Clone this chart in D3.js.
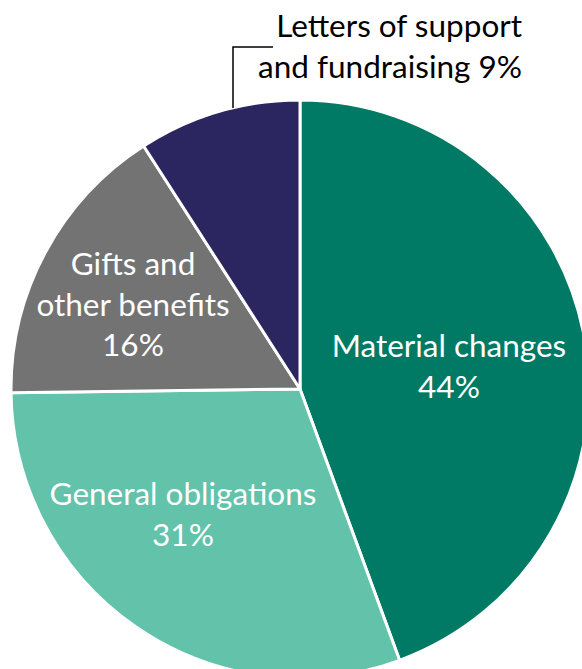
<!DOCTYPE html>
<html><head><meta charset="utf-8">
<script src="https://cdn.jsdelivr.net/npm/d3@7"></script>
<style>html,body{margin:0;padding:0;background:#fff;}svg{display:block;}</style>
</head><body>
<svg id="c" width="582" height="669"></svg>
<script>
const categories = ["Material changes", "General obligations", "Gifts and other benefits", "Letters of support and fundraising"];
const values = [44.4, 30.4, 16.1, 9.1];
const colors = ["#007A64", "#62C2AA", "#737373", "#2C2660"];
const labelLines = [
  ["Material changes", "44%"],
  ["General obligations", "31%"],
  ["Gifts and", "other benefits", "16%"],
  ["Letters of support", "and fundraising 9%"]
];

const svg = d3.select("#c");
const cx = 300, cy = 389, r = 289;
const g = svg.append("g").attr("transform", `translate(${cx},${cy})`);
const data = categories.map((c, i) => ({cat: c, value: values[i], i}));
const pie = d3.pie().value(d => d.value).sort(null);
const arc = d3.arc().innerRadius(0).outerRadius(r);
const arcs = pie(data);

g.selectAll("path").data(arcs).join("path")
  .attr("d", arc)
  .attr("fill", d => colors[d.data.i])
  .attr("stroke", "#fff")
  .attr("stroke-width", 3)
  .attr("stroke-linejoin", "round");

const font = "Lato, 'Open Sans', sans-serif";
const labelPos = [
  {x: 449, y: 357, anchor: "middle", fill: "#fff"},
  {x: 183, y: 505, anchor: "middle", fill: "#fff"},
  {x: 133, y: 275, anchor: "middle", fill: "#fff"},
  {x: 522, y: 37, anchor: "end", fill: "#000"}
];
const lh = 40.5;
labelLines.forEach((lines, i) => {
  const p = labelPos[i];
  const t = svg.append("text")
    .attr("text-anchor", p.anchor)
    .attr("fill", p.fill)
    .style("font-family", font)
    .style("font-size", "31.5px");
  lines.forEach((ln, k) => {
    t.append("tspan").attr("x", p.x).attr("y", p.y + k * lh).text(ln);
  });
});

svg.append("path")
  .attr("d", `M233,108 L233,47 L273,47`)
  .attr("fill", "none")
  .attr("stroke", "#000")
  .attr("stroke-width", 1.5);
</script>
</body></html>
